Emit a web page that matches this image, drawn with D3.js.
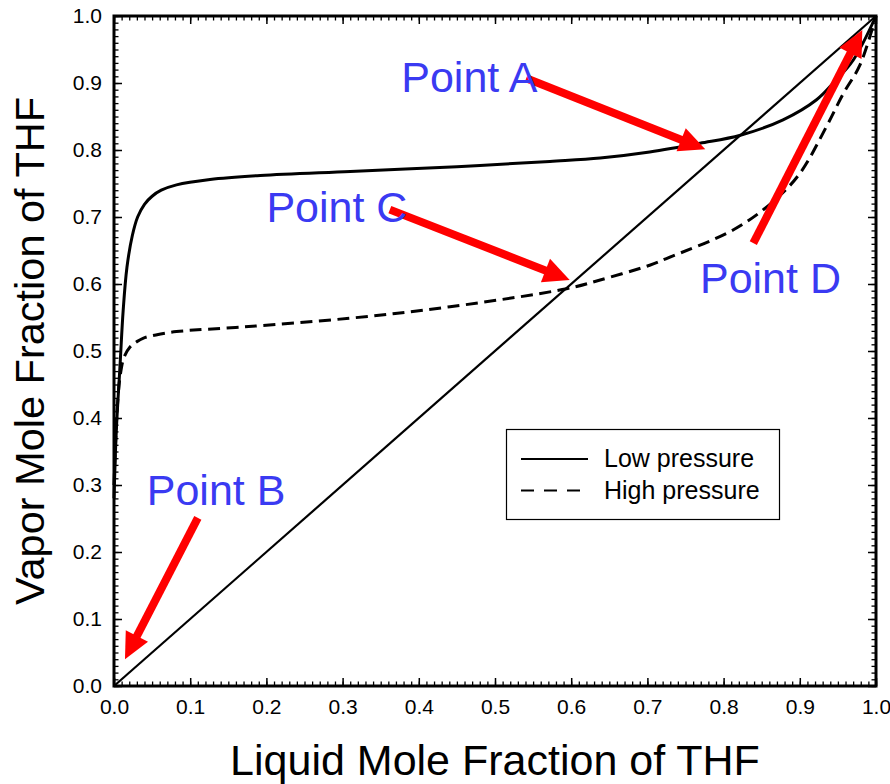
<!DOCTYPE html>
<html>
<head>
<meta charset="utf-8">
<script src="https://d3js.org/d3.v7.min.js"></script>
<style type="text/css">
body {margin:0;background:#fff;}
svg {font-family:"Liberation Sans", Arial, sans-serif;}
.axis path, .axis line {stroke:#000;}
.axis text {font-size:21px;fill:#000;font-family:"Liberation Sans", Arial, sans-serif;}
</style>
</head>
<body>
<svg id="chart" width="890" height="784"></svg>
<script type="text/javascript">
// x-y diagram data
var lowX  = [0, 0.003, 0.008, 0.012, 0.017, 0.024, 0.031, 0.04, 0.05, 0.062, 0.082, 0.126, 0.192, 0.31, 0.45, 0.572, 0.638, 0.703, 0.769, 0.822, 0.878, 0.922, 0.944, 0.97, 1.0];
var lowY  = [0.28, 0.38, 0.48, 0.56, 0.625, 0.672, 0.7, 0.719, 0.731, 0.74, 0.748, 0.756, 0.762, 0.768, 0.775, 0.783, 0.788, 0.797, 0.81, 0.822, 0.845, 0.875, 0.9, 0.934, 1.0];
var highX = [0, 0.004, 0.008, 0.013, 0.021, 0.03, 0.038, 0.055, 0.082, 0.17, 0.31, 0.441, 0.594, 0.638, 0.703, 0.725, 0.813, 0.865, 0.9, 0.935, 0.957, 0.979, 1.0];
var highY = [0.3, 0.41, 0.462, 0.49, 0.506, 0.514, 0.519, 0.524, 0.529, 0.536, 0.549, 0.566, 0.593, 0.606, 0.628, 0.638, 0.681, 0.723, 0.765, 0.835, 0.884, 0.927, 1.0];
var diagX = [0, 1];
var diagY = [0, 1];
var majorTicks = [0, 0.1, 0.2, 0.3, 0.4, 0.5, 0.6, 0.7, 0.8, 0.9, 1.0];
var minorTicks = d3.range(0, 101).map(function(i) { return i / 100; });

// annotations: label, label anchor, arrow start, arrow tip (data coords)
var noteNames = ["Point A", "Point B", "Point C", "Point D"];
var noteLabelX = [0.377, 0.043, 0.200, 0.769];
var noteLabelY = [0.887, 0.270, 0.693, 0.587];
var arrowX0 = [0.541, 0.110, 0.362, 0.839];
var arrowY0 = [0.907, 0.251, 0.711, 0.661];
var arrowX1 = [0.776, 0.0144, 0.598, 0.982];
var arrowY1 = [0.801, 0.040, 0.606, 0.979];

var pL = 114, pR = 876, pT = 16, pB = 686;
var svg = d3.select("#chart");

var x = d3.scaleLinear().domain([0, 1]).range([pL, pR]);
var y = d3.scaleLinear().domain([0, 1]).range([pB, pT]);
var fmt = d3.format(".1f");

// minor ticks on all sides
function minor(axis, tr) {
	var g = svg.append("g").attr("class", "axis").attr("transform", tr)
		.call(axis.tickValues(minorTicks).tickSize(-4.5).tickFormat(""));
	g.select(".domain").remove();
	g.selectAll("line").attr("stroke-width", 1.3);
}
minor(d3.axisBottom(x), "translate(0," + pB + ")");
minor(d3.axisTop(x), "translate(0," + pT + ")");
minor(d3.axisLeft(y), "translate(" + pL + ",0)");
minor(d3.axisRight(y), "translate(" + pR + ",0)");

// major ticks
function major(axis, tr, labels, pad) {
	var g = svg.append("g").attr("class", "axis").attr("transform", tr)
		.call(axis.tickValues(majorTicks).tickSize(-8).tickPadding(pad)
			.tickFormat(labels ? fmt : ""));
	g.select(".domain").remove();
	g.selectAll("line").attr("stroke-width", 1.5);
	return g;
}
major(d3.axisBottom(x), "translate(0," + pB + ")", true, 13);
major(d3.axisTop(x), "translate(0," + pT + ")", false, 0);
major(d3.axisLeft(y), "translate(" + pL + ",0)", true, 12);
major(d3.axisRight(y), "translate(" + pR + ",0)", false, 0);

// frame
svg.append("rect")
	.attr("x", pL).attr("y", pT)
	.attr("width", pR - pL).attr("height", pB - pT)
	.attr("fill", "none").attr("stroke", "#000").attr("stroke-width", 3);

var line = d3.line()
	.x(function(d) { return x(d[0]); })
	.y(function(d) { return y(d[1]); });

svg.append("path")
	.datum(d3.zip(diagX, diagY))
	.attr("d", line.curve(d3.curveLinear))
	.attr("fill", "none").attr("stroke", "#000").attr("stroke-width", 2.2);

line.curve(d3.curveCatmullRom.alpha(0.5));
svg.append("path")
	.datum(d3.zip(lowX, lowY))
	.attr("d", line)
	.attr("fill", "none").attr("stroke", "#000").attr("stroke-width", 3);

svg.append("path")
	.datum(d3.zip(highX, highY))
	.attr("d", line)
	.attr("fill", "none").attr("stroke", "#000").attr("stroke-width", 3)
	.attr("stroke-dasharray", "12,6.5");

// legend
var lg = svg.append("g");
lg.append("rect").attr("x", 506.5).attr("y", 429.5).attr("width", 273).attr("height", 90)
	.attr("fill", "#fff").attr("stroke", "#000").attr("stroke-width", 1.2);
lg.append("line").attr("x1", 521).attr("x2", 588).attr("y1", 459).attr("y2", 459)
	.attr("stroke", "#000").attr("stroke-width", 2.2);
lg.append("line").attr("x1", 521).attr("x2", 581).attr("y1", 490.5).attr("y2", 490.5)
	.attr("stroke", "#000").attr("stroke-width", 2.2).attr("stroke-dasharray", "13,10");
lg.append("text").attr("x", 604).attr("y", 467).attr("font-size", 25).text("Low pressure");
lg.append("text").attr("x", 604).attr("y", 499).attr("font-size", 25).text("High pressure");

// arrows and labels
var red = "#ff0000", blue = "#3a3af2";
noteNames.forEach(function(name, i) {
	var sx = x(arrowX0[i]), sy = y(arrowY0[i]);
	var tx = x(arrowX1[i]), ty = y(arrowY1[i]);
	var dx = tx - sx, dy = ty - sy, len = Math.sqrt(dx * dx + dy * dy);
	var ux = dx / len, uy = dy / len, px = -uy, py = ux;
	var hl = 26, hw = 12.5;
	var bx = tx - ux * hl, by = ty - uy * hl;
	svg.append("line")
		.attr("x1", sx).attr("y1", sy).attr("x2", bx + ux * 2).attr("y2", by + uy * 2)
		.attr("stroke", red).attr("stroke-width", 8);
	svg.append("path")
		.attr("d", "M" + tx + "," + ty + "L" + (bx + px * hw) + "," + (by + py * hw) +
			"L" + (bx - px * hw) + "," + (by - py * hw) + "Z")
		.attr("fill", red);
	svg.append("text")
		.attr("x", x(noteLabelX[i])).attr("y", y(noteLabelY[i]))
		.attr("font-size", 43).attr("fill", blue)
		.text(name);
});

// axis titles
svg.append("text")
	.attr("x", (pL + pR) / 2).attr("y", 775)
	.attr("text-anchor", "middle").attr("font-size", 43)
	.text("Liquid Mole Fraction of THF");
svg.append("text")
	.attr("transform", "translate(44," + (pT + pB) / 2 + ") rotate(-90)")
	.attr("text-anchor", "middle").attr("font-size", 41.5)
	.text("Vapor Mole Fraction of THF");
</script>
</body>
</html>
